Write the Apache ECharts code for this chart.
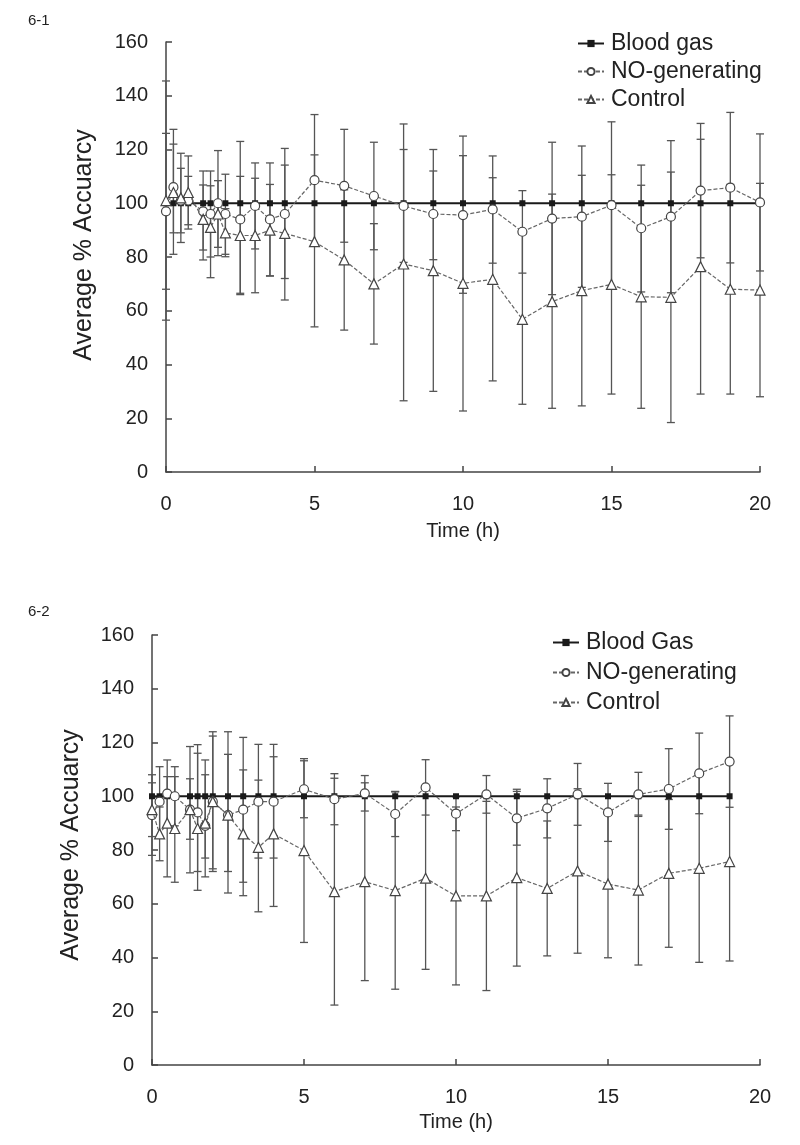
<!DOCTYPE html>
<html><head><meta charset="utf-8">
<script src="https://cdn.jsdelivr.net/npm/echarts@6/dist/echarts.min.js"></script>
<style>html,body{margin:0;padding:0;background:#fff}#c{width:800px;height:1145px}</style>
</head><body><div id="c"></div>
<script>
// ---------- Panel 6-1 ----------
const times1 = [0, 0.25, 0.5, 0.75, 1.25, 1.5, 1.75, 2, 2.5, 3, 3.5, 4, 5, 6, 7, 8, 9, 10, 11, 12, 13, 14, 15, 16, 17, 18, 19, 20];
const bloodGas1 = [100,100,100,100,100,100,100,100,100,100,100,100,100,100,100,100,100,100,100,100,100,100,100,100,100,100,100,100];
const no1 = [97, 106, 101, 101, 97, 96, 100, 96, 94, 99, 94, 96, 108.6, 106.5, 102.7, 99, 96, 95.6, 97.7, 89.4, 94.3, 95, 99.3, 90.7, 95, 104.7, 105.8, 100.3];
const noLo1 = [68, 81, 89, 92, 82.6, 80, 80.5, 81, 66, 83, 73, 72, 84, 85.5, 82.7, 78, 79, 66.5, 77.7, 74, 66, 68.7, 68.3, 67, 66.7, 79.7, 77.8, 74.8];
const noHi1 = [126, 127.5, 113, 110, 112, 112, 119.6, 110.8, 123, 115, 115, 120.4, 133, 127.5, 122.7, 120, 112, 125, 117.6, 104.7, 122.7, 121.3, 130.3, 114.2, 123.3, 129.7, 133.8, 125.8];
const ctl1 = [101, 104, 102, 104, 94, 91, 96, 89, 88, 88, 90, 88.8, 85.7, 78.9, 70, 77.4, 74.9, 70.2, 71.7, 56.8, 63.4, 67.5, 69.8, 65.2, 65, 76.4, 68, 67.7];
const ctlLo1 = [56.5, 89, 85.4, 90.4, 78.9, 72.3, 83.6, 80.1, 66.5, 66.7, 72.9, 64, 54, 52.8, 47.6, 26.5, 30, 22.7, 33.9, 25.2, 23.7, 24.6, 29, 23.7, 18.4, 29, 29, 28];
const ctlHi1 = [145.5, 122, 118.6, 117.6, 106.8, 106.5, 108.4, 98, 110, 109.3, 107, 114.2, 118, 105, 92.4, 129.5, 120, 117.7, 109.5, 88.4, 103.4, 110.4, 110.6, 106.7, 111.6, 123.8, 107, 107.4];
const legend1 = ['Blood gas', 'NO-generating', 'Control'];

// ---------- Panel 6-2 ----------
const times2 = [0, 0.25, 0.5, 0.75, 1.25, 1.5, 1.75, 2, 2.5, 3, 3.5, 4, 5, 6, 7, 8, 9, 10, 11, 12, 13, 14, 15, 16, 17, 18, 19];
const bloodGas2 = [100,100,100,100,100,100,100,100,100,100,100,100,100,100,100,100,100,100,100,100,100,100,100,100,100,100,100];
const no2 = [93, 98, 101, 100, 95, 94, 89, 98, 93, 95, 98, 98, 102.6, 98.9, 101.1, 93.4, 103.3, 93.5, 100.7, 91.8, 95.5, 100.7, 94, 100.7, 102.7, 108.5, 112.9];
const noLo2 = [78, 85, 89, 89, 84, 72, 70, 73, 72, 68, 77, 77, 92, 89.4, 94.5, 85, 93, 87.2, 93.7, 81.8, 84.5, 89.2, 83.2, 92.5, 87.7, 93.5, 95.9];
const noHi2 = [108, 111, 113.5, 111, 106.5, 116, 108, 122.4, 115.6, 121.9, 119.3, 119.3, 113.2, 108.4, 107.7, 101.8, 113.6, 99.8, 107.7, 101.8, 106.5, 112.2, 104.8, 108.9, 117.7, 123.5, 129.9];
const ctl2 = [95, 86, 90, 88, 95, 88, 90, 98, 93, 86, 81, 86, 79.8, 64.5, 68.2, 64.9, 69.5, 62.9, 62.9, 69.7, 65.7, 72.2, 67.3, 65.1, 71.3, 73.2, 75.7];
const ctlLo2 = [85, 76, 70, 68, 71.5, 65, 77, 72, 64, 63, 57, 59, 45.6, 22.3, 31.4, 28.2, 35.6, 29.8, 27.7, 36.8, 40.6, 41.6, 39.9, 37.2, 43.8, 38.2, 38.7];
const ctlHi2 = [105, 96, 107.3, 107.3, 118.5, 119.2, 113.5, 124, 124, 109.8, 106, 114.7, 114, 106.7, 105, 101.6, 103.4, 96, 98.1, 102.6, 90.8, 102.8, 94.7, 93, 98.8, 108.2, 112.7];
const legend2 = ['Blood Gas', 'NO-generating', 'Control'];

// ---------- Axis ticks ----------
const xTicks = {min: 0, max: 20, interval: 5};
const yTicks = {min: 0, max: 160, interval: 20};

const FONT = 'Liberation Sans, Arial, sans-serif';
const chart = echarts.init(document.getElementById('c'), null, {renderer: 'canvas'});

function pairs(t, v) { return t.map((x, i) => [x, v[i]]); }

function errSeries(name, t, lo, hi, gi, color) {
  return {
    type: 'custom', name: name, xAxisIndex: gi, yAxisIndex: gi, z: 1, silent: true,
    data: t.map((x, i) => [x, lo[i], hi[i]]),
    renderItem: function (params, api) {
      const x = api.value(0);
      const a = api.coord([x, api.value(1)]);
      const b = api.coord([x, api.value(2)]);
      const w = 4;
      const st = {stroke: color, lineWidth: 1.3};
      return {type: 'group', children: [
        {type: 'line', shape: {x1: a[0], y1: a[1], x2: b[0], y2: b[1]}, style: st},
        {type: 'line', shape: {x1: a[0] - w, y1: a[1], x2: a[0] + w, y2: a[1]}, style: st},
        {type: 'line', shape: {x1: b[0] - w, y1: b[1], x2: b[0] + w, y2: b[1]}, style: st}
      ]};
    }
  };
}

function bgSeries(name, t, v, gi) {
  return {type: 'line', name: name, xAxisIndex: gi, yAxisIndex: gi, z: 3, data: pairs(t, v),
    symbol: 'rect', symbolSize: 6, showAllSymbol: true,
    lineStyle: {color: '#1a1a1a', width: 2}, itemStyle: {color: '#1a1a1a'}};
}
function openSeries(name, t, v, gi, symbol, size, z) {
  return {type: 'line', name: name, xAxisIndex: gi, yAxisIndex: gi, z: z, data: pairs(t, v),
    symbol: symbol, symbolSize: size, showAllSymbol: true,
    lineStyle: {color: '#666', width: 1.2, type: [4, 2]},
    itemStyle: {color: '#fff', borderColor: '#444', borderWidth: 1.2}};
}

function xAx(gi) {
  return {gridIndex: gi, type: 'value', min: xTicks.min, max: xTicks.max, interval: xTicks.interval,
    axisLine: {onZero: false, lineStyle: {color: '#444', width: 1.5}},
    axisTick: {inside: true, length: 6, lineStyle: {color: '#444', width: 1.5}},
    axisLabel: {margin: 22, fontSize: 20, color: '#222', fontFamily: FONT},
    splitLine: {show: false}};
}
function yAx(gi) {
  return {gridIndex: gi, type: 'value', min: yTicks.min, max: yTicks.max, interval: yTicks.interval,
    axisLine: {show: true, onZero: false, lineStyle: {color: '#444', width: 1.5}},
    axisTick: {show: true, inside: true, length: 6, lineStyle: {color: '#444', width: 1.5}},
    axisLabel: {margin: 18, fontSize: 20, color: '#222', fontFamily: FONT},
    splitLine: {show: false}};
}

function legendCfg(names, left, top, gap) {
  return {data: names, orient: 'vertical', left: left, top: top, itemGap: gap, padding: 0,
    itemWidth: 26, itemHeight: 9, selectedMode: false,
    textStyle: {fontSize: 23, color: '#222', fontFamily: FONT, padding: [0, 0, 0, 2]}};
}

const option = {
  animation: false,
  backgroundColor: '#fff',
  grid: [
    {left: 166, top: 42, width: 594, height: 430},
    {left: 152, top: 635, width: 608, height: 430}
  ],
  xAxis: [xAx(0), xAx(1)],
  yAxis: [yAx(0), yAx(1)],
  legend: [legendCfg(legend1, 577, 32, 5), legendCfg(legend2, 552, 631, 7)],
  graphic: [
    {type: 'text', x: 28, y: 13, style: {text: '6-1', fontSize: 15, fontFamily: FONT, fill: '#222'}},
    {type: 'text', x: 28, y: 604, style: {text: '6-2', fontSize: 15, fontFamily: FONT, fill: '#222'}},
    {type: 'text', x: 84, y: 245, rotation: Math.PI / 2,
      style: {text: 'Average % Accuarcy', fontSize: 25, fontFamily: FONT, fill: '#222', align: 'center', verticalAlign: 'middle'}},
    {type: 'text', x: 71, y: 845, rotation: Math.PI / 2,
      style: {text: 'Average % Accuarcy', fontSize: 25, fontFamily: FONT, fill: '#222', align: 'center', verticalAlign: 'middle'}},
    {type: 'text', x: 463, y: 531,
      style: {text: 'Time (h)', fontSize: 20, fontFamily: FONT, fill: '#222', align: 'center', verticalAlign: 'middle'}},
    {type: 'text', x: 456, y: 1122,
      style: {text: 'Time (h)', fontSize: 20, fontFamily: FONT, fill: '#222', align: 'center', verticalAlign: 'middle'}}
  ],
  series: [
    errSeries('err-no-1', times1, noLo1, noHi1, 0, '#555'),
    errSeries('err-ctl-1', times1, ctlLo1, ctlHi1, 0, '#555'),
    bgSeries(legend1[0], times1, bloodGas1, 0),
    openSeries(legend1[1], times1, no1, 0, 'circle', 9, 4),
    openSeries(legend1[2], times1, ctl1, 0, 'triangle', 10, 5),
    errSeries('err-no-2', times2, noLo2, noHi2, 1, '#555'),
    errSeries('err-ctl-2', times2, ctlLo2, ctlHi2, 1, '#555'),
    bgSeries(legend2[0], times2, bloodGas2, 1),
    openSeries(legend2[1], times2, no2, 1, 'circle', 9, 4),
    openSeries(legend2[2], times2, ctl2, 1, 'triangle', 10, 5)
  ]
};
chart.setOption(option);
</script></body></html>
